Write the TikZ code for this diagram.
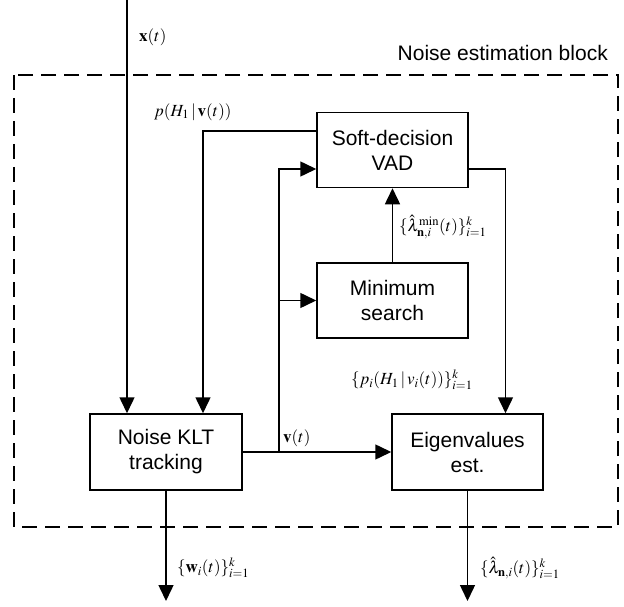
\documentclass[tikz,border=0pt]{standalone}
\usepackage{amsmath}
\usepackage{mathptmx}
\usepackage[no-math]{fontspec}
\setmainfont{Liberation Sans}
\usetikzlibrary{arrows.meta}
\tikzset{
  blk/.style={draw, line width=1.5pt, rectangle, minimum width=151pt, minimum height=75pt,
    align=center, font=\fontsize{21}{25}\selectfont, inner sep=0pt},
  arr/.style={line width=1.5pt, -{Triangle[length=16pt,width=15pt]}},
  lbl/.style={font=\fontsize{17}{20}\selectfont, inner sep=0pt},
  frame/.style={line width=1.4pt, dash pattern=on 15pt off 8pt}
}
\begin{document}
\begin{tikzpicture}[x=1pt,y=-1pt]
\useasboundingbox (0,0) rectangle (624,607);
\draw[frame] (14,75) rectangle (618,527);
\node[font=\fontsize{21}{25}\selectfont, anchor=east, inner sep=0pt] (title) at (608,53) {Noise estimation block};

\node[blk] (vad) at (392.5,150) {Soft-decision\\VAD};
\node[blk] (min) at (392.5,300.5) {Minimum\\search};
\node[blk, minimum width=152pt, minimum height=76pt] (klt) at (166,452) {Noise KLT\\tracking};
\node[blk, minimum height=76pt] (eig) at (467.5,452) {Eigenvalues\\est.};

\coordinate (xin) at (127,0);
\coordinate (vt) at (279,452);
\coordinate (vm) at (279,300.5);
\coordinate (o1) at (166,601);
\coordinate (o2) at (467.5,601);

\draw[arr] (xin) -- (xin |- klt.north);
\draw[arr] ([yshift=19pt]vad.west) -| ([xshift=37pt]klt.north);
\draw[arr] (klt.east) -- (eig.west);
\draw[arr] (vt) |- ([yshift=-19pt]vad.west);
\draw[arr] (vm) -- (min.west);
\draw[arr] (min.north) -- (vad.south);
\draw[arr] ([yshift=-19pt]vad.east) -| ([xshift=38pt]eig.north);
\draw[arr] (klt.south) -- (o1);
\draw[arr] (eig.south) -- (o2);

\node[lbl, anchor=west] (lx) at (139,37) {$\mathbf{x}(t)$};
\node[lbl, anchor=west] (lp) at (154,112) {$p(H_1\,|\,\mathbf{v}(t))$};
\node[lbl, anchor=west] (lmin) at (399,227) {$\{\hat{\lambda}_{\mathbf{n},i}^{\min}(t)\}_{i=1}^{k}$};
\node[lbl, anchor=west] (lv) at (283,438) {$\mathbf{v}(t)$};
\node[lbl, anchor=west] (lpi) at (351,380) {$\{p_i(H_1\,|\,v_i(t))\}_{i=1}^{k}$};
\node[lbl, anchor=west] (lw) at (177,568) {$\{\mathbf{w}_i(t)\}_{i=1}^{k}$};
\node[lbl, anchor=west] (ll) at (480,568) {$\{\hat{\lambda}_{\mathbf{n},i}(t)\}_{i=1}^{k}$};
\end{tikzpicture}
\end{document}
